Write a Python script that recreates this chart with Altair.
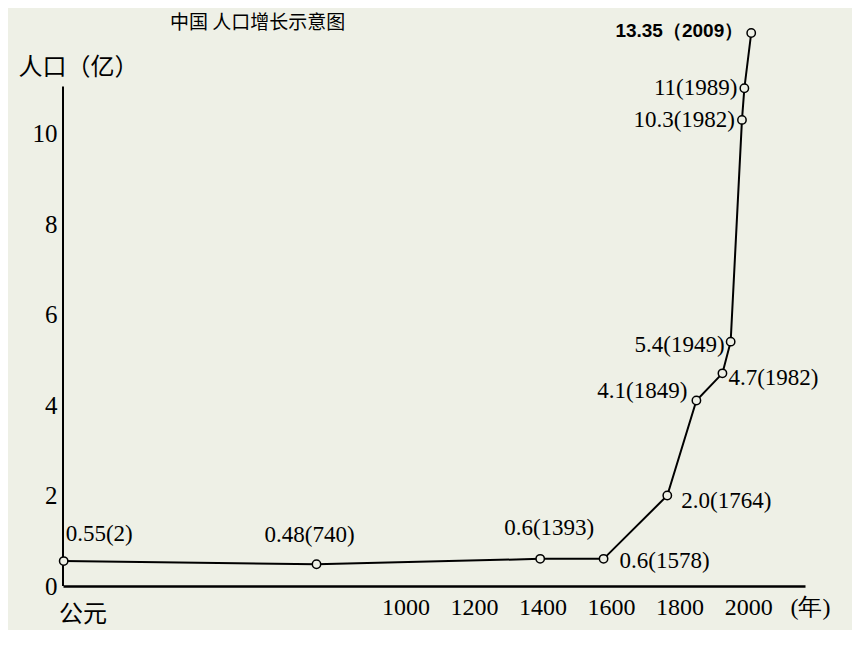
import altair as alt
import pandas as pd

# ---- data ----
years = [2, 740, 1393, 1578, 1764, 1849, 1925, 1949, 1982, 1989, 2009]
population = [0.55, 0.48, 0.6, 0.6, 2.0, 4.1, 4.7, 5.4, 10.3, 11, 13.35]
labels = ["0.55(2)", "0.48(740)", "0.6(1393)", "0.6(1578)", "2.0(1764)",
          "4.1(1849)", "4.7(1982)", "5.4(1949)", "10.3(1982)", "11(1989)",
          "13.35（2009）"]
x_tick_values = [1000, 1200, 1400, 1600, 1800, 2000]
y_tick_values = [0, 2, 4, 6, 8, 10]
title_text = "中国 人口增长示意图"
y_title = "人口（亿）"
x_title = "(年)"
origin_label = "公元"

df = pd.DataFrame({"year": years, "pop": population, "label": labels})

BG = "#eef0e6"
W, H = 742, 558
SERIF = "Liberation Serif"
CJK = "Noto Sans CJK SC"

xs = alt.Scale(domain=[0, 2166], range=[0, W], nice=False, zero=True)
ys = alt.Scale(domain=[0, 11, 13.35], range=[H, 60.25, 5], nice=False)

x_axis = alt.Axis(
    values=x_tick_values, format="d", grid=False, ticks=False, domain=True,
    domainColor="black", domainWidth=2.5, labelFont=SERIF,
    labelFontSize=24, labelColor="black", labelPadding=9,
    labelFlush=False, title=x_title, titleX=727, titleY=21,
    titleAlign="left", titleBaseline="middle", titleFont=SERIF,
    titleFontSize=24, titleFontWeight="normal", titleColor="black")
y_axis = alt.Axis(
    values=y_tick_values, format="d", grid=False, ticks=False, domain=False,
    labelFont=SERIF, labelFontSize=25, labelColor="black",
    labelPadding=6, title=y_title, titleAngle=0, titleAlign="left",
    titleBaseline="middle", titleX=-45, titleY=39, titleFont=CJK,
    titleFontSize=24, titleFontWeight="normal", titleColor="black")

X = alt.X("year:Q", scale=xs, axis=x_axis)
Y = alt.Y("pop:Q", scale=ys, axis=y_axis)

line = alt.Chart(df).mark_line(color="black", strokeWidth=2).encode(x=X, y=Y)

points = alt.Chart(df).mark_circle(
    size=70, fill=BG, stroke="black", strokeWidth=1.5, opacity=1
).encode(x=X, y=Y)

yaxis_line = alt.Chart(pd.DataFrame({"year": [0], "pop": [0], "pop2": [11.07]})).mark_rule(
    color="black", strokeWidth=2
).encode(x=X, y=Y, y2="pop2:Q")

placement = {
    "0.55(2)": ("left", 2, -27),
    "0.48(740)": ("center", -7, -29),
    "0.6(1393)": ("center", 9, -31),
    "0.6(1578)": ("left", 16, 2),
    "2.0(1764)": ("left", 14, 5),
    "4.1(1849)": ("right", -9, -9),
    "4.7(1982)": ("left", 6, 5),
    "5.4(1949)": ("right", -6, 3),
    "10.3(1982)": ("right", -7, 0),
    "11(1989)": ("right", -7, 0),
    "13.35（2009）": ("right", -8, -2),
}

text_layers = []
for lab in labels:
    align, dx, dy = placement[lab]
    bold = lab.startswith("13.35")
    t = alt.Chart(df).transform_filter(alt.datum.label == lab).mark_text(
        align=align, baseline="middle", dx=dx, dy=dy,
        font="Liberation Sans" if bold else SERIF,
        fontSize=19 if bold else 23,
        fontWeight="bold" if bold else "normal", color="black",
    ).encode(x=X, y=Y, text="label:N")
    text_layers.append(t)

origin = alt.Chart(pd.DataFrame({"year": [0], "pop": [0], "t": [origin_label]})).mark_text(
    align="center", baseline="middle", dx=20, dy=29, font=CJK, fontSize=24,
    color="black"
).encode(x=X, y=Y, text="t:N")

title = alt.Chart(pd.DataFrame({"t": [title_text]})).mark_text(
    align="left", baseline="middle", font=CJK, fontSize=19, color="black"
).encode(x=alt.value(107), y=alt.value(-5), text="t:N")

chart = alt.layer(yaxis_line, line, points, *text_layers, origin, title).properties(
    width=W, height=H,
    autosize=alt.AutoSizeParams(type="none"),
    padding={"left": 55, "top": 20, "right": 47, "bottom": 44},
    background=BG,
).configure_view(stroke=None)

chart.save("out.html", embed_options={"renderer": "svg", "actions": False})
